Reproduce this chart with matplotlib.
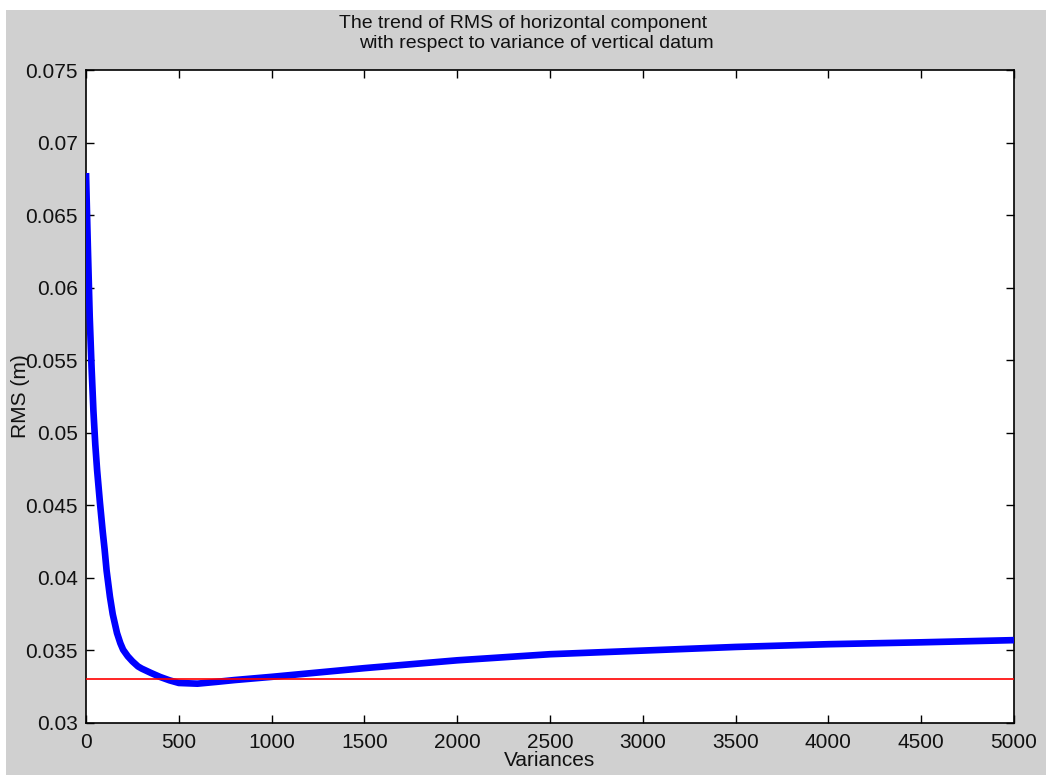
import matplotlib
matplotlib.use("Agg")
import matplotlib.pyplot as plt
from matplotlib.patches import Rectangle

# ---- data ----
variances = [0, 10, 20, 30, 40, 50, 60, 75, 90, 100, 111, 129, 144, 167, 185,
             200, 225, 250, 280, 300, 350, 400, 450, 500, 600, 700, 800, 900,
             1000, 1250, 1500, 1750, 2000, 2500, 3000, 3500, 4000, 4500, 5000]
rms = [0.0679, 0.0628, 0.0580, 0.0545, 0.0515, 0.0492, 0.0474, 0.0452,
       0.0432, 0.0420, 0.0405, 0.0387, 0.0375, 0.0362, 0.0355,
       0.03505, 0.0346, 0.03425, 0.0339, 0.03375, 0.03345, 0.03317, 0.03294,
       0.03276, 0.03271, 0.03283, 0.03296, 0.03307, 0.03318, 0.03348,
       0.03378, 0.03405, 0.03432, 0.03474, 0.03499, 0.03524, 0.03543,
       0.03556, 0.03571]
threshold = 0.033

x_ticks = [0, 500, 1000, 1500, 2000, 2500, 3000, 3500, 4000, 4500, 5000]
y_ticks = [0.03, 0.035, 0.04, 0.045, 0.05, 0.055, 0.06, 0.065, 0.07, 0.075]
y_tick_labels = ["0.03", "0.035", "0.04", "0.045", "0.05", "0.055", "0.06",
                 "0.065", "0.07", "0.075"]
title_line1 = "The trend of RMS of horizontal component"
title_line2 = "with respect to variance of vertical datum"
x_label = "Variances"
y_label = "RMS (m)"

plt.rcParams['font.family'] = ['Liberation Sans', 'DejaVu Sans']

W, H = 1046, 775
fig = plt.figure(figsize=(W / 100, H / 100), dpi=100)
fig.patch.set_facecolor('white')
fig.patches.append(Rectangle((6 / W, 0), 1 - 6 / W, 1 - 10 / H,
                             transform=fig.transFigure, facecolor='#d0d0d0',
                             edgecolor='none', zorder=-10))

left, right, top, bottom = 86, 1014, 70, 723
ax = fig.add_axes([left / W, (H - bottom) / H, (right - left) / W, (bottom - top) / H])
ax.set_facecolor('white')

ax.plot(variances, rms, color='#0000ff', lw=4.8, solid_capstyle='butt',
        solid_joinstyle='round', zorder=3)
ax.axhline(threshold, color='#ff0000', lw=1.2, zorder=4)

ax.set_xlim(0, 5000)
ax.set_ylim(0.03, 0.075)
ax.set_xticks(x_ticks)
ax.set_xticklabels([str(t) for t in x_ticks])
ax.set_yticks(y_ticks)
ax.set_yticklabels(y_tick_labels)

ax.tick_params(direction='in', length=6, width=1, top=True, right=True,
               labelsize=15, colors='black', labelcolor='#111111')
ax.tick_params(axis='x', pad=7)
ax.tick_params(axis='y', pad=6)
for s in ax.spines.values():
    s.set_linewidth(1.2)
    s.set_color('black')

ax.set_xlabel(x_label, fontsize=15, color='#111111')
ax.xaxis.set_label_coords(0.5, -(761 - bottom) / (bottom - top))
ax.xaxis.label.set_va('center')
ax.set_ylabel(y_label, fontsize=15, color='#111111')
ax.yaxis.set_label_coords(-(left - 21) / (right - left), 0.5)
ax.yaxis.label.set_va('center')

fig.text(523 / W, 1 - 23.5 / H, title_line1, ha='center', va='center',
         fontsize=14, color='#111111')
fig.text(536 / W, 1 - 44 / H, title_line2, ha='center', va='center',
         fontsize=14, color='#111111')

fig.savefig("out.png", dpi=100, facecolor=fig.get_facecolor())
